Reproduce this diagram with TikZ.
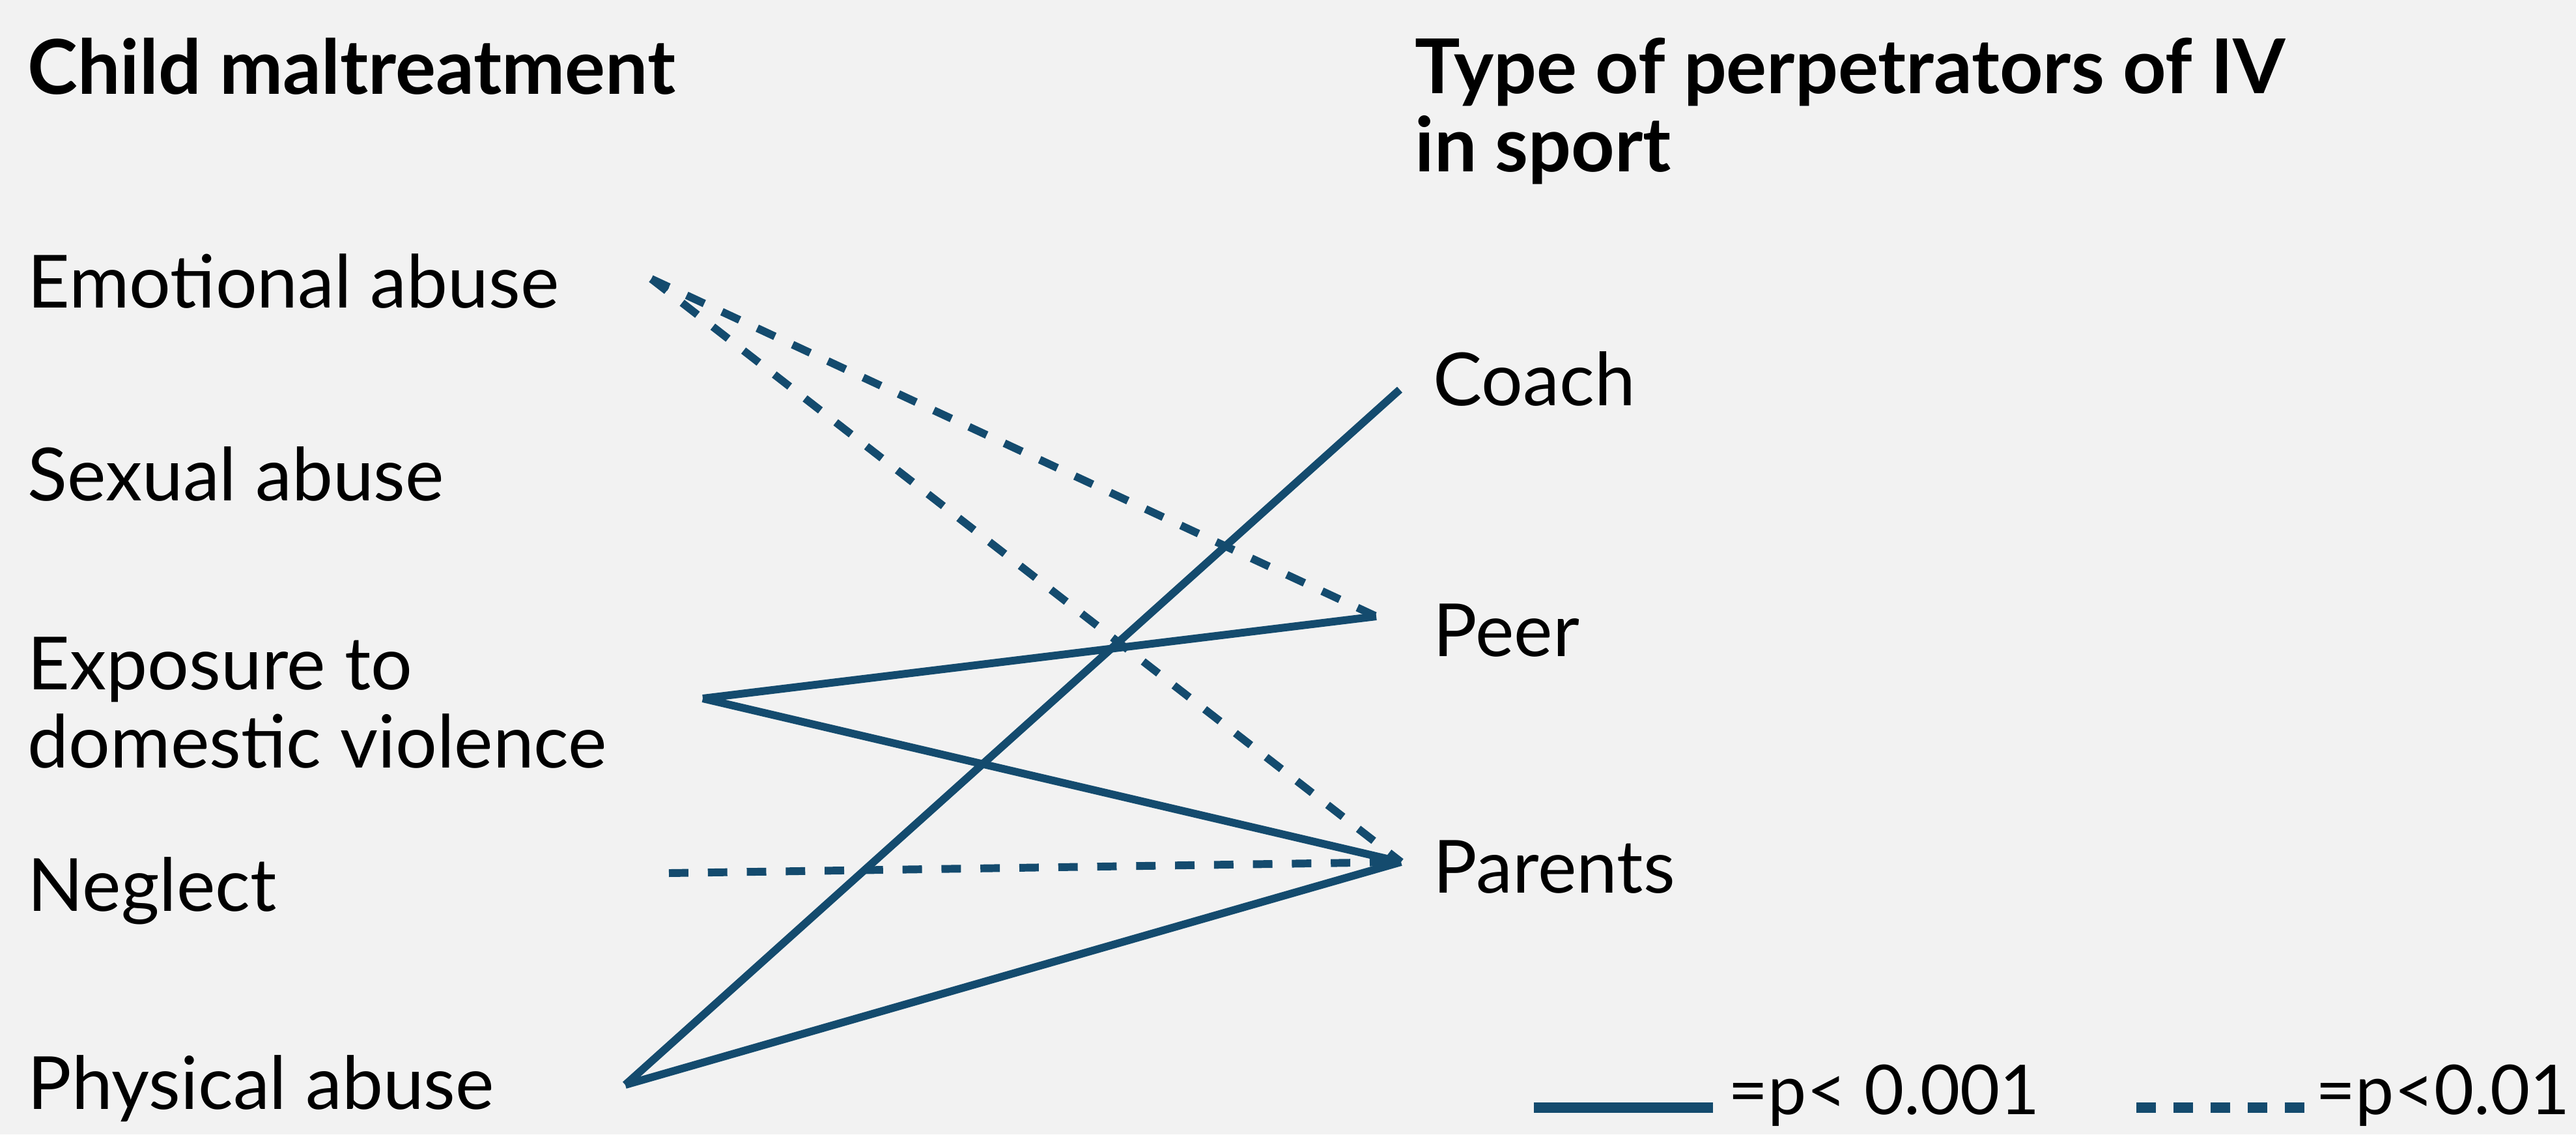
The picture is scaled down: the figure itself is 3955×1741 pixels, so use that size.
\documentclass[tikz,border=0pt]{standalone}
\usepackage{fontspec}
\setmainfont{Lato}
\definecolor{linkblue}{HTML}{144B6E}
\definecolor{paper}{HTML}{F2F2F2}
\begin{document}
\begin{tikzpicture}[x=0.01cm,y=-0.01cm,
    lbl/.style={anchor=base west,inner sep=0pt,align=left,font=\fontsize{32}{34}\selectfont},
    head/.style={lbl,font=\fontsize{33}{34}\selectfont\bfseries},
    keytxt/.style={lbl,font=\fontsize{30}{34}\selectfont},
    sigA/.style={draw=linkblue,line width=3.4pt},
    sigB/.style={sigA,dash pattern=on 8.5pt off 8.5pt}]
    \useasboundingbox (0,0) rectangle (3955,1741);
    \fill[paper] (0,0) rectangle (3955,1741);
    % column heads (base = last line)
    \node[head] (cm) at (42,144) {Child maltreatment};
    \node[head] (tp) at (2172,263) {Type of perpetrators of IV\\in sport};
    % kinds of maltreatment
    \foreach \nm/\y/\txt in {emo/472/Emotional abuse, sex/768/Sexual abuse,
        expo/1178/{Exposure to\\domestic violence}, negl/1398/Neglect, phys/1702/Physical abuse}{
      \node[lbl] (\nm) at (42,\y) {\txt};
    }
    % perpetrators
    \foreach \nm/\y/\txt in {coach/622/Coach, peer/1007/Peer, par/1370/Parents}{
      \node[lbl] (\nm) at (2200,\y) {\txt};
    }
    % line ends
    \coordinate (emoE) at (1000,428);
    \coordinate (expoE) at (1079,1072);
    \coordinate (neglE) at (1027,1340);
    \coordinate (physE) at (960,1665);
    \coordinate (coachE) at (2149,598);
    \coordinate (peerE) at (2113,946);
    \coordinate (parE) at (2151,1323);
    \draw[sigA] (physE) -- (coachE);
    \draw[sigA] (physE) -- (parE);
    \draw[sigA] (expoE) -- (peerE);
    \draw[sigA] (expoE) -- (parE);
    \draw[sigB] (emoE) -- (peerE);
    \draw[sigB] (emoE) -- (parE);
    \draw[sigB] (neglE) -- (parE);
    % key
    \coordinate (keyA1) at (2355,1700);
    \coordinate (keyA2) at (2630,1700);
    \coordinate (keyB1) at (3280,1700);
    \coordinate (keyB2) at (3539,1700);
    \draw[sigA,line width=4.5pt] (keyA1) -- (keyA2);
    \draw[sigB,line width=4.3pt,dash pattern=on 8.5pt off 7.7pt] (keyB1) -- (keyB2);
    \node[keytxt] (keyAt) at (2653,1710) {=p< 0.001};
    \node[keytxt] (keyBt) at (3555,1710) {=p<0.01};
\end{tikzpicture}
\end{document}
